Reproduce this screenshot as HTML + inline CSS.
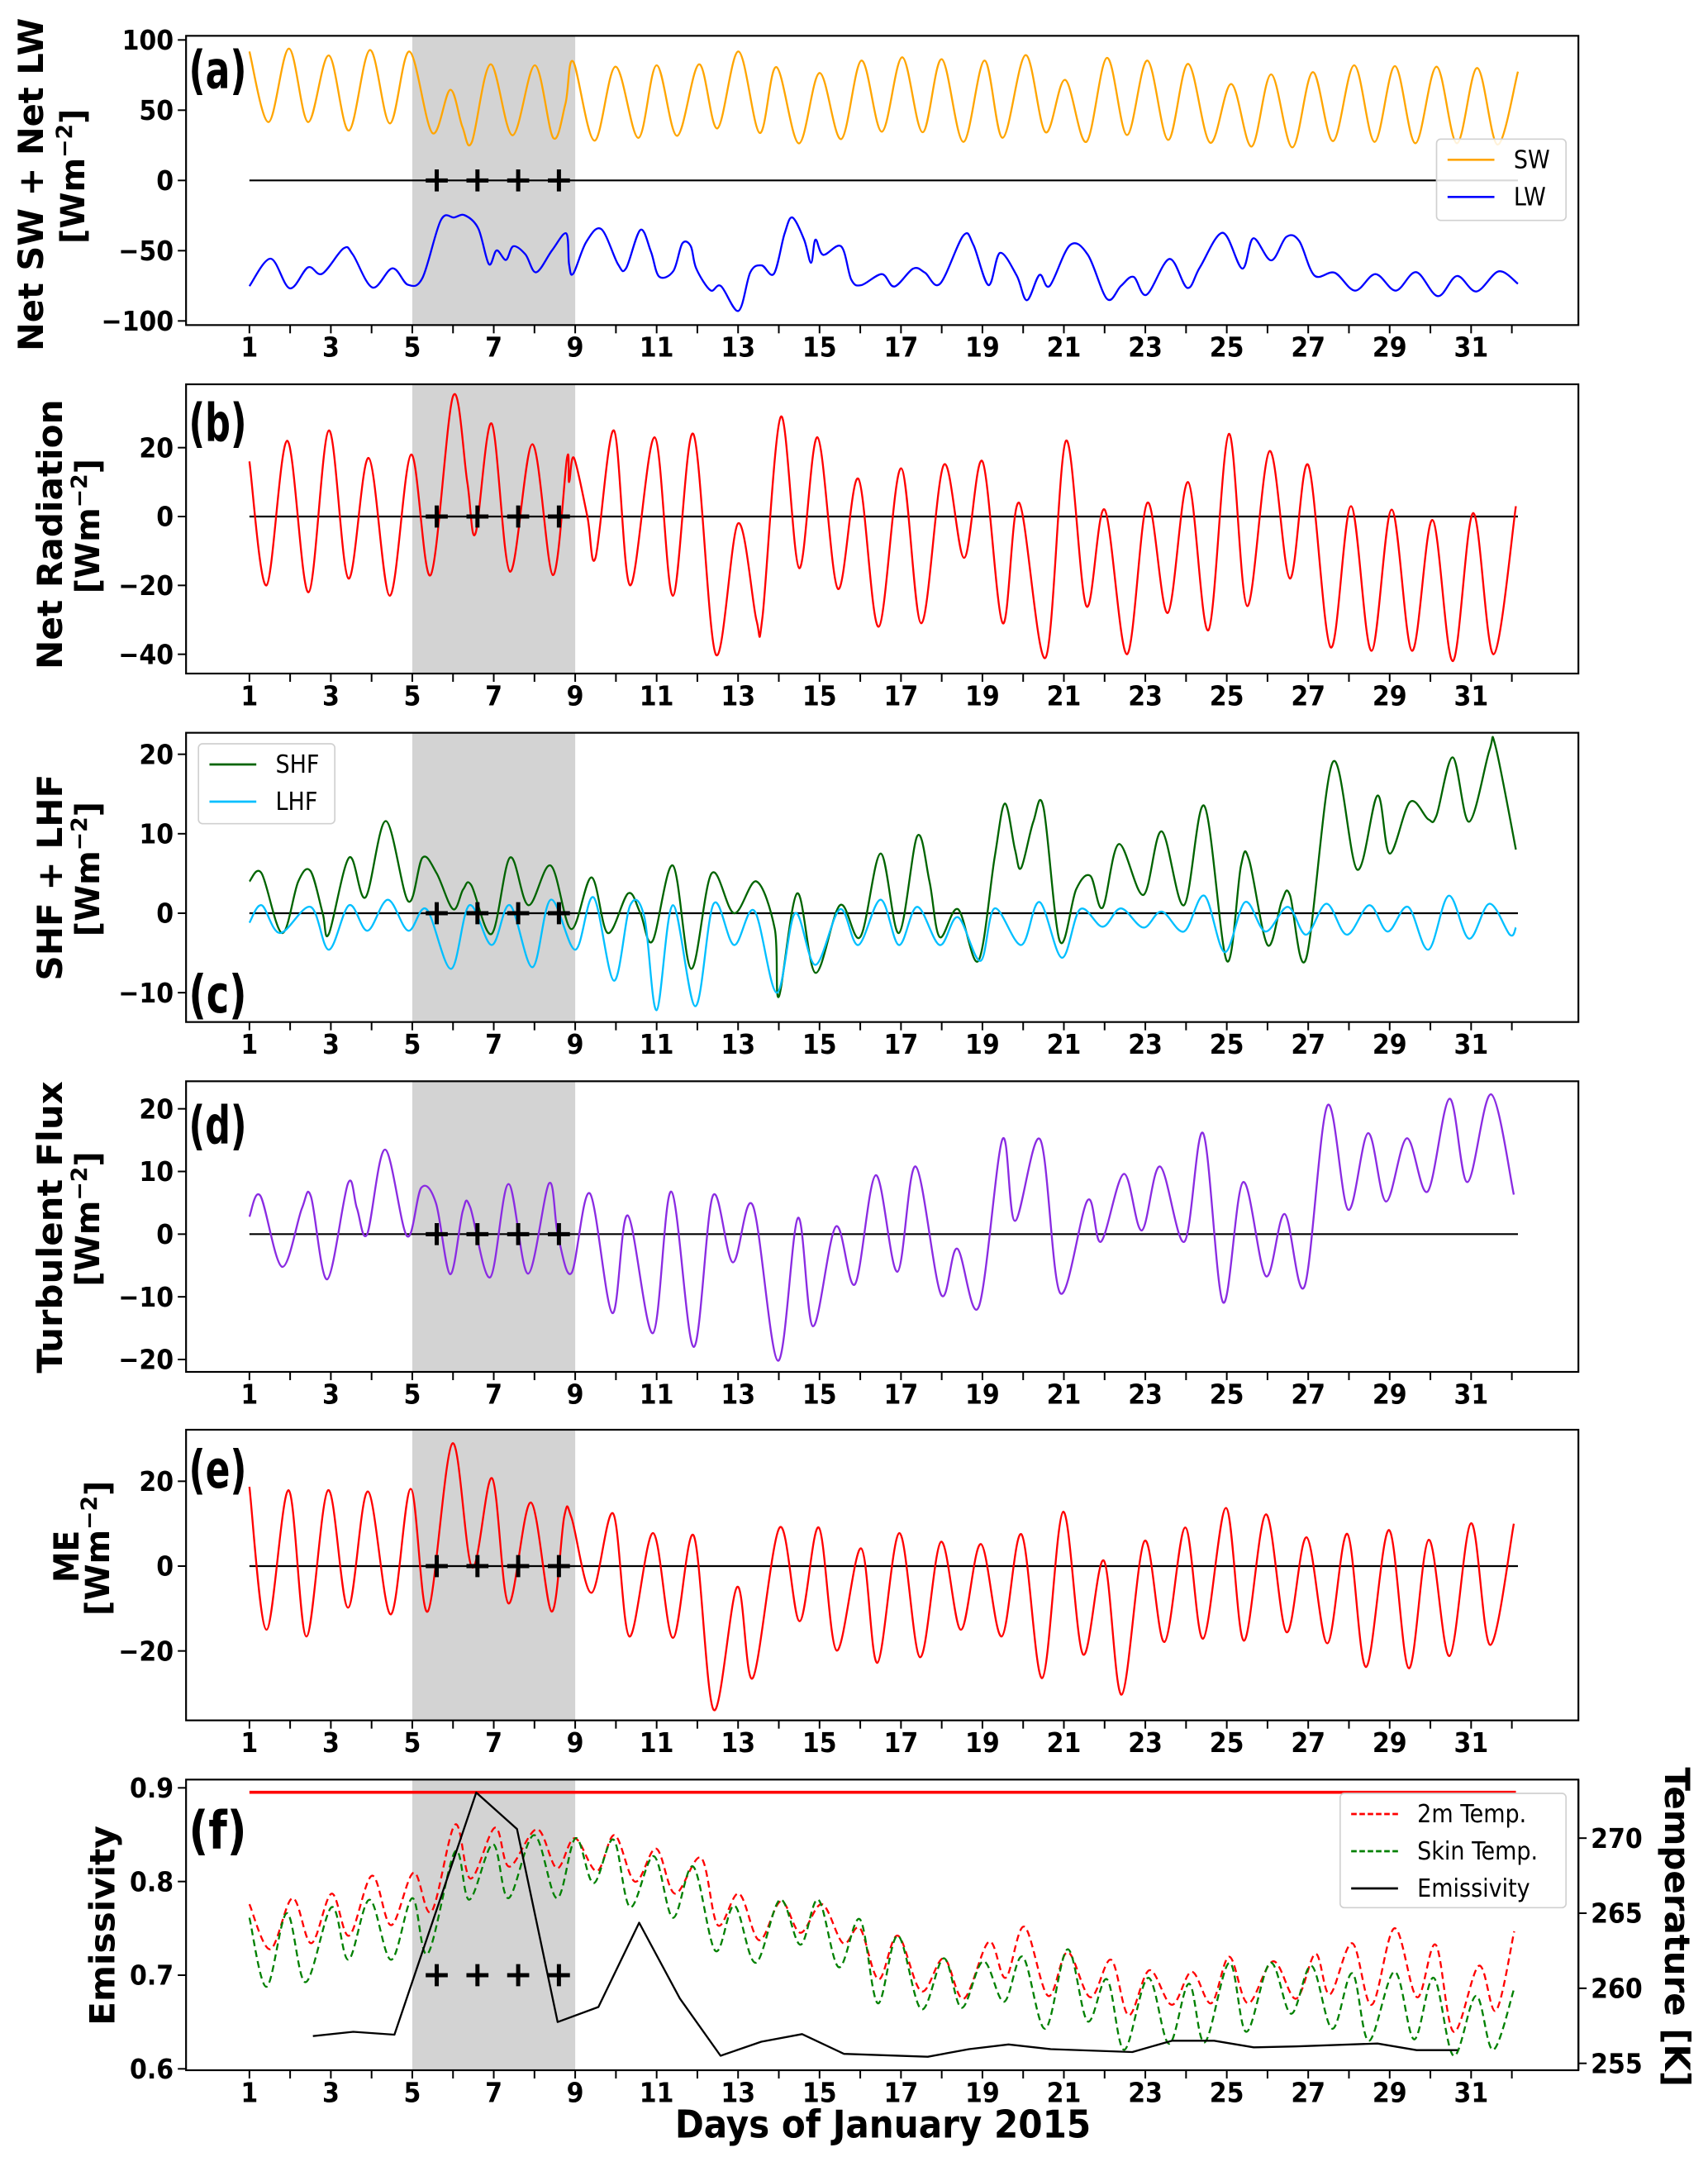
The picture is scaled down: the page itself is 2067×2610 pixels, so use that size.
<!DOCTYPE html>
<html><head><meta charset="utf-8"><style>
html,body{margin:0;padding:0;background:#fff}
svg{display:block}
text{font-family:"DejaVu Sans Condensed","DejaVu Sans","Liberation Sans",sans-serif;font-weight:bold;fill:#000}
.leg{font-weight:normal}
</style></head><body>
<svg id="chart" xmlns="http://www.w3.org/2000/svg" width="2067" height="2610" viewBox="0 0 1240 1566">
<g id="root"></g>
</svg>
<script>
// ---- data (days of January 2015) ----
const dayTicks=[1,3,5,7,9,11,13,15,17,19,21,23,25,27,29,31];
const shadeDays=[5,9];
const crossDays=[5.6,6.6,7.6,8.6];

const swT=[1.0,1.47,1.97,2.44,2.95,3.44,3.96,4.45,4.93,5.49,5.93,6.23,6.46,6.92,7.46,8.01,8.46,8.76,8.95,9.47,9.99,10.55,11.0,11.5,12.04,12.49,13.01,13.53,13.94,14.49,15.0,15.53,16.03,16.53,17.03,17.53,18.0,18.53,19.05,19.5,20.06,20.55,21.03,21.55,22.06,22.55,23.05,23.56,24.05,24.59,25.11,25.61,26.09,26.61,27.11,27.61,28.13,28.63,29.13,29.63,30.15,30.65,31.15,31.65,32.15];
const swV=[91.8,41.6,93.8,41.6,88.9,35.5,92.8,40.6,91.8,33.8,64.5,38,27.3,82.6,32.2,82,30.3,54.7,84.6,28.3,81,30.3,82,31.8,82.6,37.1,91.8,33.8,80.7,26.4,76.5,29.4,85.3,34.7,87.6,34.3,86.3,27.5,85.3,30.4,89.2,34.3,71.6,27.5,87.3,32.4,85.3,28.8,82.9,26.9,68.6,24.1,75.5,23.5,77.1,28,82,27.5,81.4,26.5,81,26.5,80,25.5,77.5];
const lwT=[1.0,1.52,1.99,2.44,2.79,3.31,3.54,4.02,4.51,4.89,5.25,5.7,6.03,6.29,6.62,6.88,7.07,7.3,7.48,7.78,8.04,8.43,8.78,8.85,8.95,9.27,9.64,10.05,10.25,10.6,10.86,11.06,11.41,11.63,11.84,11.97,12.32,12.58,13.01,13.3,13.58,13.88,14.14,14.33,14.62,14.79,14.9,15.09,15.53,15.78,16.03,16.53,16.84,17.3,17.59,17.96,18.53,18.78,19.15,19.43,19.84,20.09,20.4,20.65,21.15,21.59,22.06,22.4,22.71,23.03,23.59,24.03,24.34,24.9,25.38,25.65,26.09,26.46,26.78,27.15,27.65,28.15,28.65,29.15,29.65,30.18,30.65,31.13,31.68,32.15];
const lwV=[-75.2,-55.7,-76.8,-61.9,-66.4,-48.4,-52.7,-76.2,-62.5,-74.2,-69.3,-28.3,-26.4,-24.8,-34.2,-59.6,-49.8,-56.6,-46.9,-52.7,-65.4,-49.8,-37.7,-59.6,-66.4,-43.9,-34.6,-59.6,-62.5,-35.2,-50.8,-68.4,-64.5,-44.9,-46.9,-62.5,-78.1,-75.2,-92.8,-65.4,-60.5,-66.4,-38.1,-26.4,-42,-58.6,-42.2,-52.9,-47,-70.6,-74.5,-66.7,-75.5,-62.7,-65.7,-73.5,-39.2,-46.1,-74.5,-51.6,-67.6,-85.3,-67.3,-75.1,-46.1,-52.9,-84.3,-75.1,-68.6,-81.4,-55.9,-76.5,-61.8,-37.3,-62.7,-41.2,-56.9,-40.2,-43.1,-67.6,-65.7,-78.4,-66.7,-78.4,-65.3,-82.4,-68,-79,-64.7,-73.5];

const nrT=[1.0,1.42,1.93,2.45,2.95,3.43,3.93,4.45,4.97,5.45,6.0,6.35,6.55,6.95,7.4,7.95,8.45,8.8,8.85,8.97,9.3,9.5,9.95,10.35,10.95,11.4,11.9,12.45,13.0,13.45,13.6,14.05,14.5,14.95,15.45,15.95,16.45,17.0,17.5,18.05,18.55,19.0,19.5,19.9,20.55,21.05,21.55,22.0,22.55,23.05,23.55,24.05,24.55,25.05,25.5,26.05,26.55,27.0,27.55,28.05,28.55,29.05,29.55,30.05,30.55,31.05,31.55,32.1];
const nrV=[16,-20,22,-22,25,-18,17,-23,18,-17,35,10,-5,27,-16,21,-17,17,10,17,0,-12,25,-20,23,-23,24,-40,-2,-30,-29,29,-15,23,-21,11,-32,14,-31,15,-12,16,-31,4,-41,22,-26,2,-40,4,-28,10,-33,24,-26,19,-18,15,-38,3,-39,2,-39,-1,-42,1,-40,3];

const shfT=[1.0,1.3,1.8,2.2,2.5,2.8,2.95,3.45,3.85,4.35,4.9,5.25,5.6,6.0,6.25,6.45,6.95,7.4,7.85,8.4,8.9,9.4,9.8,10.3,10.6,10.9,11.4,11.85,12.35,12.9,13.45,13.9,14.0,14.45,14.9,15.5,16.0,16.5,16.95,17.4,17.7,17.95,18.4,18.9,19.3,19.55,19.8,19.95,20.25,20.5,20.9,21.3,21.65,21.95,22.35,22.95,23.4,23.95,24.45,25.0,25.35,25.55,26.0,26.35,26.55,26.95,27.6,28.2,28.7,29.0,29.5,29.95,30.15,30.55,30.95,31.45,31.6,32.1];
const shfV=[4,5,-2.5,4,5.3,0,-2.6,7,2,11.6,1.5,7,5,0.5,3,3.5,-2.6,7,1,6,-2,4.5,-2.5,2.5,0,-3.5,6,-7,5,0,4,-2,-10.5,2.5,-7.5,1,-3,7.5,-2.5,9.7,4,-3,0.5,-6,7,13.8,8,5.7,11.5,13.3,-3.5,3,4.7,0.7,8.7,2.3,10.3,1,13.5,-6,6,6.7,-4,1.5,2.3,-5.7,19,5.5,14.8,7.5,14,11.8,12.3,19.6,11.5,20.5,21,8];
const lhfT=[1.0,1.3,1.75,2.5,2.95,3.45,3.9,4.4,4.9,5.35,5.95,6.4,6.95,7.4,7.95,8.4,9.0,9.45,9.95,10.35,10.7,11.0,11.4,11.95,12.4,12.9,13.4,13.95,14.4,14.9,15.5,15.95,16.5,16.95,17.4,17.95,18.4,18.95,19.3,19.95,20.4,20.95,21.4,21.95,22.4,22.95,23.4,23.95,24.45,24.95,25.45,25.95,26.5,26.95,27.45,27.95,28.5,28.95,29.45,29.95,30.45,30.95,31.45,31.95,32.1];
const lhfV=[-1.2,1,-2.5,0.8,-4.6,1,-2.2,1.7,-2.2,0.5,-7,1,-4,1,-6.8,1.7,-4.6,2,-8.5,1,-0.5,-12.2,1,-11.7,1.2,-4,0.3,-10,0,-6.5,0.5,-4,1.7,-4,0.8,-4,-0.5,-6,0.6,-4,1.4,-5.6,0.5,-1.7,0.6,-1.8,0.2,-2.3,2.2,-4.9,1.4,-2.3,0.8,-2.7,1.2,-2.7,1,-2.3,0.8,-4.6,2.2,-3.2,1.2,-2.7,-1.8];

const tfT=[1.0,1.27,1.8,2.29,2.51,2.91,3.42,3.64,3.89,4.33,4.87,5.22,5.58,5.93,6.24,6.42,6.91,7.36,7.84,8.36,8.58,8.91,9.36,9.91,10.29,10.91,11.36,11.91,12.38,12.87,13.36,13.98,14.47,14.84,15.4,15.87,16.38,16.91,17.36,17.98,18.38,18.91,19.49,19.8,20.42,20.91,21.58,21.91,22.47,22.91,23.36,23.96,24.42,24.91,25.4,25.96,26.42,26.91,27.47,27.98,28.47,28.91,29.42,29.93,30.47,30.91,31.49,32.05];
const tfV=[2.8,6.1,-5.2,4.1,6.0,-7.2,8.1,4.1,0,13.5,-0.3,7.4,5,-6.4,3.7,4.3,-6.9,8,-6.3,8.1,-0.3,-6.2,6.5,-12.6,3,-15.8,6.8,-18,6.1,-4.5,4.6,-20.2,2.6,-14.7,1.2,-8,9.4,-6,10.8,-9.6,-2.3,-11.6,15.1,2.1,15.1,-9.4,5.4,-1.2,9.6,0.6,10.8,-1.2,16.1,-10.9,8.3,-6.7,3.2,-8.3,20.5,3.9,16.1,5.2,15.3,6.8,21.6,8.3,22.3,6.3];

const meT=[1.0,1.42,1.96,2.4,2.93,3.42,3.91,4.47,4.96,5.38,5.98,6.47,6.96,7.36,7.91,8.42,8.73,8.91,9.4,9.93,10.33,10.91,11.4,11.91,12.4,12.98,13.36,14.02,14.51,14.98,15.42,16.02,16.42,16.96,17.47,17.98,18.47,18.96,19.47,19.96,20.47,20.98,21.47,21.98,22.42,22.98,23.47,23.98,24.42,24.98,25.42,25.96,26.47,26.96,27.47,27.96,28.42,28.98,29.47,29.96,30.47,31.0,31.47,32.05];
const meV=[18.7,-15,17.9,-16.6,17.9,-9.8,17.6,-11.4,18.2,-10.7,28.9,-0.3,20.7,-8.8,15,-10.7,11.7,11.4,-6.3,12.4,-16.6,7.8,-16.9,7.2,-33.9,-4.9,-26.4,9.1,-13,9.1,-19.9,4.2,-22.8,7.8,-21.5,5.7,-15,5.2,-16.6,7.5,-26.4,12.8,-20.8,1.3,-30.3,5.9,-17.9,9.1,-17.1,13.7,-17.6,12.2,-15.6,6.8,-18.2,7.6,-23.8,8.5,-24.1,6.2,-21.2,10.1,-18.6,10];

const emT=[2.56,3.55,4.56,6.57,7.57,8.57,9.57,10.57,11.57,12.57,13.57,14.57,15.6,17.66,18.67,19.64,20.68,22.68,23.65,24.69,25.66,26.69,28.7,29.66,30.67];
const emV=[0.635,0.6395,0.6365,0.895,0.856,0.650,0.666,0.756,0.675,0.614,0.629,0.637,0.616,0.613,0.621,0.626,0.621,0.618,0.630,0.630,0.623,0.624,0.627,0.620,0.620];
const emThreshold=[0.8953];

const t2T=[1.0,1.51,2.06,2.52,3.02,3.45,4.01,4.48,5.03,5.47,6.05,6.43,7.03,7.38,8.06,8.55,8.99,9.53,9.97,10.47,10.99,11.45,12.09,12.5,13.02,13.52,14.05,14.53,15.06,15.58,15.99,16.45,16.92,17.5,18.05,18.54,19.16,19.57,20.03,20.61,21.09,21.65,22.16,22.59,23.1,23.65,24.14,24.62,25.06,25.52,26.14,26.7,27.18,27.53,28.08,28.56,29.12,29.67,30.13,30.57,31.19,31.61,32.06];
const t2V=[265.6,262.6,266.0,263.0,266.3,263.5,267.5,264.2,267.7,265.1,270.9,267.3,270.7,268.1,270.6,268.0,270.0,267.8,270.2,267.1,269.3,266.3,268.7,264.2,266.3,263.2,265.8,263.7,265.6,263.0,264.0,260.6,263.5,259.8,262.0,259.3,263.1,260.7,264.1,259.5,262.4,259.4,261.9,258.2,261.2,258.9,261.1,259.0,262.1,259.0,261.8,259.3,262.3,259.6,263.0,258.9,264.0,259.4,262.9,257.1,261.5,258.5,263.8];
const tsT=[1.0,1.42,1.92,2.38,3.02,3.43,3.95,4.48,5.0,5.38,6.05,6.4,6.98,7.36,7.99,8.55,9.01,9.45,9.94,10.35,10.93,11.4,11.9,12.44,12.91,13.43,14.03,14.53,14.97,15.47,15.99,16.43,16.92,17.5,18.05,18.49,19.02,19.53,19.99,20.54,21.09,21.58,22.06,22.48,23.07,23.58,24.07,24.46,25.06,25.48,26.07,26.58,27.08,27.59,28.08,28.49,29.12,29.6,30.08,30.57,31.12,31.54,32.06];
const tsV=[264.7,260.1,265.0,260.4,265.4,261.9,265.9,261.9,266.0,262.3,269.1,265.9,269.6,266.0,270.2,266.0,270.0,267.0,269.9,265.4,268.8,264.7,268.1,262.5,265.5,261.7,265.9,262.9,265.9,261.4,264.6,259.0,263.5,258.6,262.0,258.7,261.8,259.1,262.1,257.3,262.6,257.8,260.6,255.9,260.7,256.3,260.3,256.4,261.7,257.1,261.7,258.3,261.5,257.3,261.0,256.5,261.1,256.6,260.7,255.5,259.5,255.9,260.0];

const aTicks=[-100,-50,0,50,100];
const bTicks=[-40,-20,0,20];
const cTicks=[-10,0,10,20];
const dTicks=[-20,-10,0,10,20];
const eTicks=[-20,0,20];
const fTicks=[0.6,0.7,0.8,0.9];
const fRightTicks=[255,260,265,270];

// ---- layout ----
const NS='http://www.w3.org/2000/svg';
const root=document.getElementById('root');
const X0=135,X1=1146;
const xOf=d=>181+(d-1)*29.57;
function el(tag,attrs,parent){const e=document.createElementNS(NS,tag);for(const k in attrs)e.setAttribute(k,attrs[k]);(parent||root).appendChild(e);return e;}
function smoothPath(ts,vs,fx,fy){
  const p=ts.map((t,i)=>[fx(t),fy(vs[i])]);
  let d='M'+p[0][0].toFixed(1)+','+p[0][1].toFixed(1);
  for(let i=0;i<p.length-1;i++){
    const p0=p[i-1]||p[i],p1=p[i],p2=p[i+1],p3=p[i+2]||p[i+1];
    const c1x=p1[0]+(p2[0]-p0[0])/6,c1y=p1[1]+(p2[1]-p0[1])/6;
    const c2x=p2[0]-(p3[0]-p1[0])/6,c2y=p2[1]-(p3[1]-p1[1])/6;
    d+=' C'+c1x.toFixed(1)+','+c1y.toFixed(1)+' '+c2x.toFixed(1)+','+c2y.toFixed(1)+' '+p2[0].toFixed(1)+','+p2[1].toFixed(1);
  }
  return d;
}
function linePath(ts,vs,fx,fy){return ts.map((t,i)=>(i?'L':'M')+fx(t).toFixed(1)+','+fy(vs[i]).toFixed(1)).join(' ');}

const panels=[
 {key:'a',top:26,bot:236,y0:131,k:1.02,ticks:aTicks,lab1:'Net SW + Net LW',len1:242,x1:22,x2:52,cy:134,letterY:64},
 {key:'b',top:279,bot:489,y0:375,k:2.5,ticks:bTicks,lab1:'Net Radiation',len1:196,x1:36,x2:63,cy:388,letterY:320},
 {key:'c',top:532,bot:742,y0:663,k:5.77,ticks:cTicks,lab1:'SHF + LHF',len1:150,x1:36,x2:63,cy:637,letterY:735},
 {key:'d',top:785,bot:996,y0:896,k:4.55,ticks:dTicks,lab1:'Turbulent Flux',len1:212,x1:36,x2:63,cy:891,letterY:830},
 {key:'e',top:1038,bot:1249,y0:1137,k:3.08,ticks:eTicks,lab1:'ME',len1:38,x1:48,x2:70,cy:1130,letterY:1080},
 {key:'f',top:1292,bot:1503,letterY:1342}
];

panels.forEach(P=>{
  const g=el('g',{});
  
  
  const sh=el('rect',{x:xOf(shadeDays[0]),y:P.top,width:xOf(shadeDays[1])-xOf(shadeDays[0]),height:P.bot-P.top,fill:'#d3d3d3'},g);
  
  
  // x ticks
  for(let d=1;d<=32;d++){
    el('line',{x1:xOf(d),x2:xOf(d),y1:P.bot,y2:P.bot+6,stroke:'#000','stroke-width':1.2},g);
  }
  dayTicks.forEach(d=>{
    const t=el('text',{x:xOf(d),y:P.bot+23,'text-anchor':'middle','font-size':20},g);
    t.textContent=d;
    
    
  });
  const yf = P.key==='f' ? (v=>1502-(v-0.6)*680) : (v=>P.y0-v*P.k);
  const ticks = P.key==='f'?fTicks:P.ticks;
  ticks.forEach(v=>{
    const y=yf(v);
    el('line',{x1:X0-6,x2:X0,y1:y,y2:y,stroke:'#000','stroke-width':1.2},g);
    const t=el('text',{x:X0-9,y:y+7,'text-anchor':'end','font-size':20},g);
    t.textContent=(v<0?'\u2212'+Math.abs(v):String(v));
    
    
  });
  P.yf=yf; P.g=g;
  const lt=el('text',{x:137,y:P.letterY,'font-size':38,textLength:42,lengthAdjust:'spacingAndGlyphs'},g);
  lt.textContent='('+P.key+')';
  
  
  if(P.key!=='f'){
    const t1=el('text',{x:0,y:0,'font-size':25,'text-anchor':'middle',textLength:P.len1,lengthAdjust:'spacingAndGlyphs',transform:`translate(${P.x1+9},${P.cy}) rotate(-90)`,style:'font-family:"DejaVu Sans",sans-serif'},g);
    t1.textContent=P.lab1;
    
    
    const t2=el('text',{x:0,y:0,'font-size':24,'text-anchor':'middle',transform:`translate(${P.x2+9},${P.cy-6}) rotate(-90)`,style:'font-family:"DejaVu Sans",sans-serif'},g);
    t2.innerHTML='[Wm<tspan dy="-9" font-size="16">\u22122</tspan><tspan dy="9">]</tspan>';
    
    
  }
});

function series(P,ts,vs,color,name,extra,smooth){
  const p=el('path',Object.assign({d:(smooth===false?linePath:smoothPath)(ts,vs,xOf,P.yf),fill:'none',stroke:color,'stroke-width':1.4,'stroke-linejoin':'round'},extra||{}),P.g);
  
  
  return p;
}
function zeroLine(P){
  const l=el('line',{x1:xOf(1),x2:xOf(32.15),y1:P.yf(0),y2:P.yf(0),stroke:'#000','stroke-width':1.3},P.g);
  
  
}
function crosses(P,y){
  crossDays.forEach(d=>{
    const x=xOf(d);
    const c=el('path',{d:`M${x-8},${y}H${x+8}M${x},${y-8}V${y+8}`,stroke:'#000','stroke-width':3},P.g);
    
    
  });
}
const [A,B,C,D,E,F]=panels;
// a
series(A,swT,swV,'#ffa500','sw-line');
zeroLine(A);
series(A,lwT,lwV,'#0000ff','lw-line');
crosses(A,A.yf(0));
// b
zeroLine(B);
series(B,nrT,nrV,'#ff0000','net-radiation-line');
crosses(B,B.yf(0));
// c
zeroLine(C);
series(C,shfT,shfV,'#006400','shf-line');
series(C,lhfT,lhfV,'#00bfff','lhf-line');
crosses(C,C.yf(0));
// d
zeroLine(D);
series(D,tfT,tfV,'#8a2be2','turbulent-flux-line');
crosses(D,D.yf(0));
// e
zeroLine(E);
series(E,meT,meV,'#ff0000','me-line');
crosses(E,E.yf(0));
// f
const yT=v=>1498-(v-255)*10.9;
const thr=el('line',{x1:xOf(1),x2:xOf(32.1),y1:F.yf(emThreshold[0]),y2:F.yf(emThreshold[0]),stroke:'#ff0000','stroke-width':2.2},F.g);


const yFsave=F.yf;
F.yf=yT;
series(F,t2T,t2V,'#ff0000','temp-2m-line',{'stroke-dasharray':'5,3'});
series(F,tsT,tsV,'#008000','skin-temp-line',{'stroke-dasharray':'5,3'});
F.yf=yFsave;
series(F,emT,emV,'#000000','emissivity-line',{},false);
crosses(F,F.yf(0.7));
// right axis f
el('line',{x1:X1,x2:X1,y1:F.top,y2:F.bot,stroke:'#000','stroke-width':1.3},F.g);
fRightTicks.forEach(v=>{
  const y=yT(v);
  el('line',{x1:X1,x2:X1+6,y1:y,y2:y,stroke:'#000','stroke-width':1.2},F.g);
  const t=el('text',{x:X1+9,y:y+7,'font-size':20},F.g);
  t.textContent=v;
  
  
});
const ey=el('text',{x:0,y:0,'font-size':25,'text-anchor':'middle',textLength:145,lengthAdjust:'spacingAndGlyphs',transform:'translate(83,1398) rotate(-90)',style:'font-family:"DejaVu Sans",sans-serif'},F.g);
ey.textContent='Emissivity';


const ty=el('text',{x:0,y:0,'font-size':25,'text-anchor':'middle',textLength:232,lengthAdjust:'spacingAndGlyphs',transform:'translate(1209,1399) rotate(90)',style:'font-family:"DejaVu Sans",sans-serif'},F.g);
ty.textContent='Temperature [K]';


const xl=el('text',{x:641,y:1552,'font-size':28,'text-anchor':'middle',textLength:302,lengthAdjust:'spacingAndGlyphs'});
xl.textContent='Days of January 2015';



// frames
panels.forEach(P=>{
  const r=el('rect',{x:X0,y:P.top,width:X1-X0,height:P.bot-P.top,fill:'none',stroke:'#000','stroke-width':1.3},P.g);
  
  
});

// legends
function legend(x,y,w,h,items,name){
  const g=el('g',{});
  
  
  el('rect',{x:x,y:y,width:w,height:h,rx:3,fill:'#fff','fill-opacity':0.85,stroke:'#d0d0d0','stroke-width':1},g);
  items.forEach((it,i)=>{
    const yy=y+15+i*27;
    const ln=el('line',Object.assign({x1:x+8,x2:x+42,y1:yy,y2:yy,stroke:it.c,'stroke-width':1.6},it.dash?{'stroke-dasharray':'4,2'}:{}),g);
    
    
    const t=el('text',{x:x+56,y:yy+6,'font-size':18,class:'leg'},g);
    t.textContent=it.t;
    
    
  });
}
legend(1043,101,94,59,[{c:'#ffa500',t:'SW'},{c:'#0000ff',t:'LW'}],'legend-a');
legend(144,540,99,58,[{c:'#006400',t:'SHF'},{c:'#00bfff',t:'LHF'}],'legend-c');
legend(973,1302,164,83,[{c:'#ff0000',t:'2m Temp.',dash:1},{c:'#008000',t:'Skin Temp.',dash:1},{c:'#000',t:'Emissivity'}],'legend-f');
</script>
</body></html>
